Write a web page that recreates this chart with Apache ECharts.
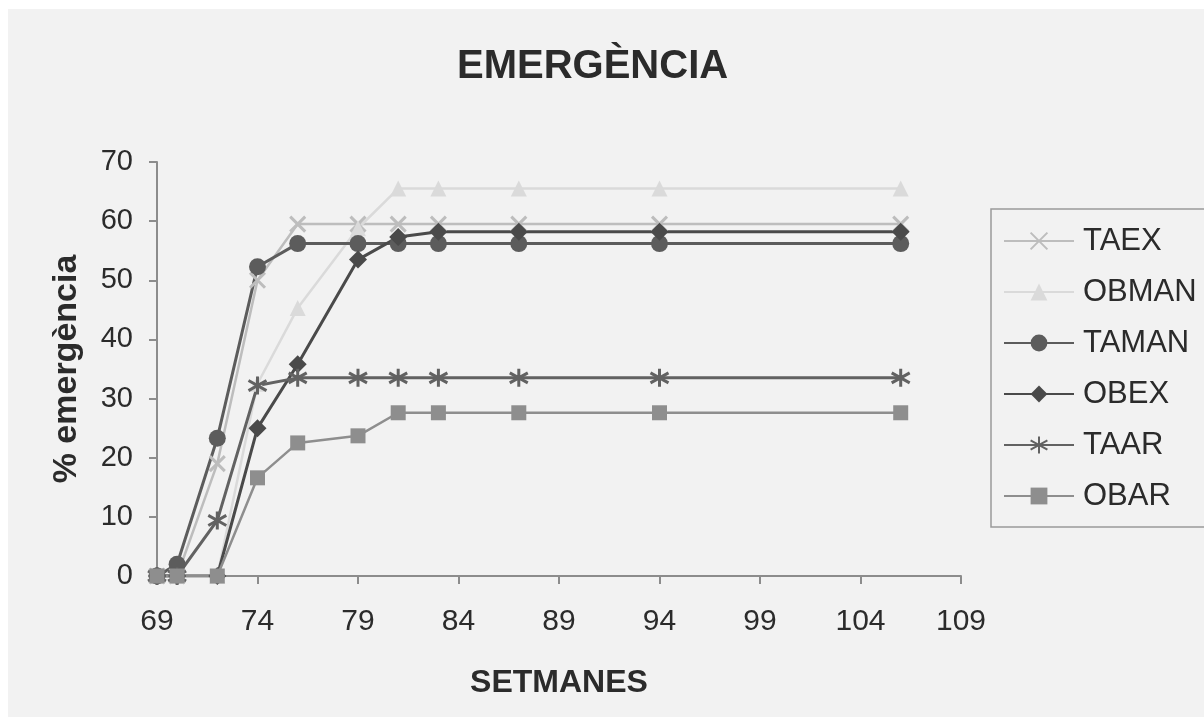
<!DOCTYPE html>
<html>
<head>
<meta charset="utf-8">
<script src="https://cdn.jsdelivr.net/npm/echarts@6/dist/echarts.min.js"></script>
<style>
html,body{margin:0;padding:0;background:#ffffff;}
#chart{width:1204px;height:717px;}
</style>
</head>
<body>
<div id="chart"></div>
<script>
// Data
var weeks = [69, 70, 72, 74, 76, 79, 81, 83, 87, 94, 106];
var TAEX  = [0, 0, 19.0, 50.0, 59.5, 59.5, 59.5, 59.5, 59.5, 59.5, 59.5];
var OBMAN = [0, 0, 0, 32.5, 45.3, 58.8, 65.5, 65.5, 65.5, 65.5, 65.5];
var TAMAN = [0, 2.0, 23.3, 52.3, 56.2, 56.2, 56.2, 56.2, 56.2, 56.2, 56.2];
var OBEX  = [0, 0, 0, 25.0, 35.8, 53.5, 57.3, 58.2, 58.2, 58.2, 58.2];
var TAAR  = [0, 0, 9.4, 32.2, 33.5, 33.5, 33.5, 33.5, 33.5, 33.5, 33.5];
var OBAR  = [0, 0, 0, 16.6, 22.5, 23.7, 27.6, 27.6, 27.6, 27.6, 27.6];
var xTickLabels = [69, 74, 79, 84, 89, 94, 99, 104, 109];
var yTickLabels = [0, 10, 20, 30, 40, 50, 60, 70];
var seriesNames = ['TAEX', 'OBMAN', 'TAMAN', 'OBEX', 'TAAR', 'OBAR'];

function pairs(vals) {
  return weeks.map(function (w, i) { return [w, vals[i]]; });
}

var FONT = '"Liberation Sans", Arial, sans-serif';
var TXT = '#2b2b2b';
var AX = '#8c8c8c';

var symX = 'path://M0,0L10,10M10,0L0,10';
var symAst = 'path://M5,0L5,10M0,2.2L10,7.8M0,7.8L10,2.2';

function mk(name, vals, color, symbol, size, width, stroked) {
  var s = {
    name: name,
    type: 'line',
    data: pairs(vals),
    symbol: symbol,
    symbolSize: size,
    showAllSymbol: true,
    lineStyle: { color: color, width: width },
    itemStyle: { color: color },
    emphasis: { disabled: true }
  };
  if (stroked) {
    s.itemStyle = { color: color, borderColor: color, borderWidth: 3 };
  }
  return s;
}

var chart = echarts.init(document.getElementById('chart'));
chart.setOption({
  animation: false,
  backgroundColor: '#ffffff',
  graphic: [{
    type: 'rect', z: -100, silent: true,
    shape: { x: 8, y: 9, width: 1196, height: 708 },
    style: { fill: '#f2f2f2' }
  }, {
    type: 'rect', z: 1, silent: true,
    shape: { x: 991, y: 209, width: 260, height: 318 },
    style: { fill: 'none', stroke: '#9a9a9a', lineWidth: 1.5 }
  }],
  title: {
    text: 'EMERGÈNCIA',
    left: 452, top: 42,
    textStyle: { fontFamily: FONT, fontSize: 40, fontWeight: 'bold', color: TXT }
  },
  grid: { left: 157, top: 162, width: 804, height: 414, containLabel: false },
  legend: {
    orient: 'vertical',
    left: 991, top: 209,
    padding: [15, 10, 15, 12],
    itemGap: 17,
    itemWidth: 70,
    itemHeight: 21,
    borderWidth: 0,
    data: seriesNames,
    textStyle: { fontFamily: FONT, fontSize: 31, color: TXT, lineHeight: 34, padding: [0, 0, 0, 4] }
  },
  xAxis: {
    type: 'value',
    min: 69, max: 109,
    name: 'SETMANES',
    nameLocation: 'middle',
    nameGap: 91,
    nameTextStyle: { fontFamily: FONT, fontSize: 32, fontWeight: 'bold', color: TXT },
    axisLine: { lineStyle: { color: AX, width: 2 } },
    axisTick: { show: true, length: 8, lineStyle: { color: AX, width: 2 }, customValues: xTickLabels },
    axisLabel: { fontFamily: FONT, fontSize: 30, color: TXT, margin: 31, customValues: xTickLabels },
    splitLine: { show: false }
  },
  yAxis: {
    type: 'value',
    min: 0, max: 70, interval: 10,
    name: '% emergència',
    nameLocation: 'middle',
    nameGap: 73,
    nameTextStyle: { fontFamily: FONT, fontSize: 34, fontWeight: 'bold', color: TXT },
    axisLine: { show: true, lineStyle: { color: AX, width: 2 } },
    axisTick: { show: true, length: 8, lineStyle: { color: AX, width: 2 } },
    axisLabel: { fontFamily: FONT, fontSize: 29, color: TXT, margin: 24,
      formatter: function (v) { return yTickLabels.indexOf(v) >= 0 ? String(v) : ''; } },
    splitLine: { show: false }
  },
  series: [
    mk('TAEX', TAEX, '#bdbdbd', symX, 15, 2.5, true),
    mk('OBMAN', OBMAN, '#dadada', 'triangle', 16, 2.5, false),
    mk('TAMAN', TAMAN, '#5c5c5c', 'circle', 17, 3, false),
    mk('OBEX', OBEX, '#4a4a4a', 'diamond', 18, 3, false),
    mk('TAAR', TAAR, '#626262', symAst, 18, 3, true),
    mk('OBAR', OBAR, '#8e8e8e', 'rect', 15, 2.5, false)
  ]
});
</script>
</body>
</html>
